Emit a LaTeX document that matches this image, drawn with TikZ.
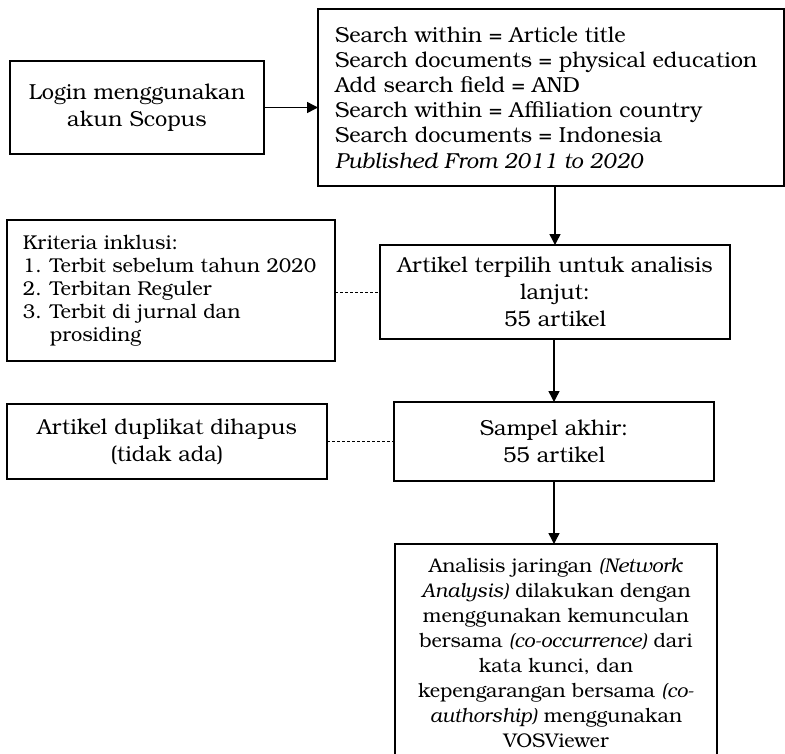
\documentclass[tikz,border=0pt]{standalone}
\usepackage{fontspec}
\setmainfont{TeX Gyre Bonum}
\usetikzlibrary{arrows.meta}
\begin{document}
\begin{tikzpicture}[x=1pt,y=-1pt,
  box/.style={draw=black,line width=1.5pt,inner sep=0pt,outer sep=0pt,
    font=\fontsize{21.7}{27}\selectfont},
  flow/.style={line width=1.5pt,-{Triangle[length=11pt,width=11pt]}},
  link/.style={line width=0.8pt,dash pattern=on 3pt off 2pt}]
\useasboundingbox (0,0) rectangle (785,753);

% boxes
\node[box,minimum width=254pt,minimum height=93pt,align=center] (login) at (137,107.5)
  {Login menggunakan\\akun Scopus};
\node[box,minimum width=466pt,minimum height=177pt,font=\fontsize{21.7}{25.2}\selectfont] (search) at (551,97.5)
  {\begin{minipage}{432pt}\raggedright
   Search within = Article title\\
   Search documents = physical education\\
   Add search field = AND\\
   Search within = Affiliation country\\
   Search documents = Indonesia\\
   \textit{Published From 2011 to 2020}\end{minipage}};
\node[box,minimum width=350pt,minimum height=94pt,align=center] (artikel) at (555,292)
  {Artikel terpilih untuk analisis\\lanjut:\\55 artikel};
\node[box,minimum width=328pt,minimum height=141pt,font=\fontsize{20}{23}\selectfont] (kriteria) at (171,290.5)
  {\begin{minipage}{296pt}\raggedright
   Kriteria inklusi:\\
   \makebox[27pt][l]{1.}Terbit sebelum tahun 2020\\
   \makebox[27pt][l]{2.}Terbitan Reguler\\
   \makebox[27pt][l]{3.}Terbit di jurnal dan\\
   \hspace*{27pt}prosiding\end{minipage}};
\node[box,minimum width=320pt,minimum height=75pt,align=center] (duplikat) at (167,441.5)
  {Artikel duplikat dihapus\\(tidak ada)};
\node[box,minimum width=320pt,minimum height=79pt,align=center] (sampel) at (554,441.5)
  {Sampel akhir:\\55 artikel};
% the last box runs past the lower page edge
\node[box,minimum width=322pt,minimum height=218pt,align=center,font=\fontsize{19.8}{25}\selectfont] (final) at (556,653)
  {Analisis jaringan \textit{(Network}\\
   \textit{Analysis)} dilakukan dengan\\
   menggunakan kemunculan\\
   bersama \textit{(co-occurrence)} dari\\
   kata kunci, dan\\
   kepengarangan bersama \textit{(co-}\\
   \textit{authorship)} menggunakan\\
   VOSViewer};

% connectors
\draw[flow] (login.east) -- (login.east -| search.west);
\draw[flow] (artikel.north |- search.south) -- (artikel.north);
\draw[flow] (sampel.north |- artikel.south) -- (sampel.north);
\draw[flow] (sampel.south) -- (sampel.south |- final.north);
\draw[link] (artikel.west -| kriteria.east) -- (artikel.west);
\draw[link] (duplikat.east) -- (duplikat.east -| sampel.west);
\end{tikzpicture}
\end{document}
